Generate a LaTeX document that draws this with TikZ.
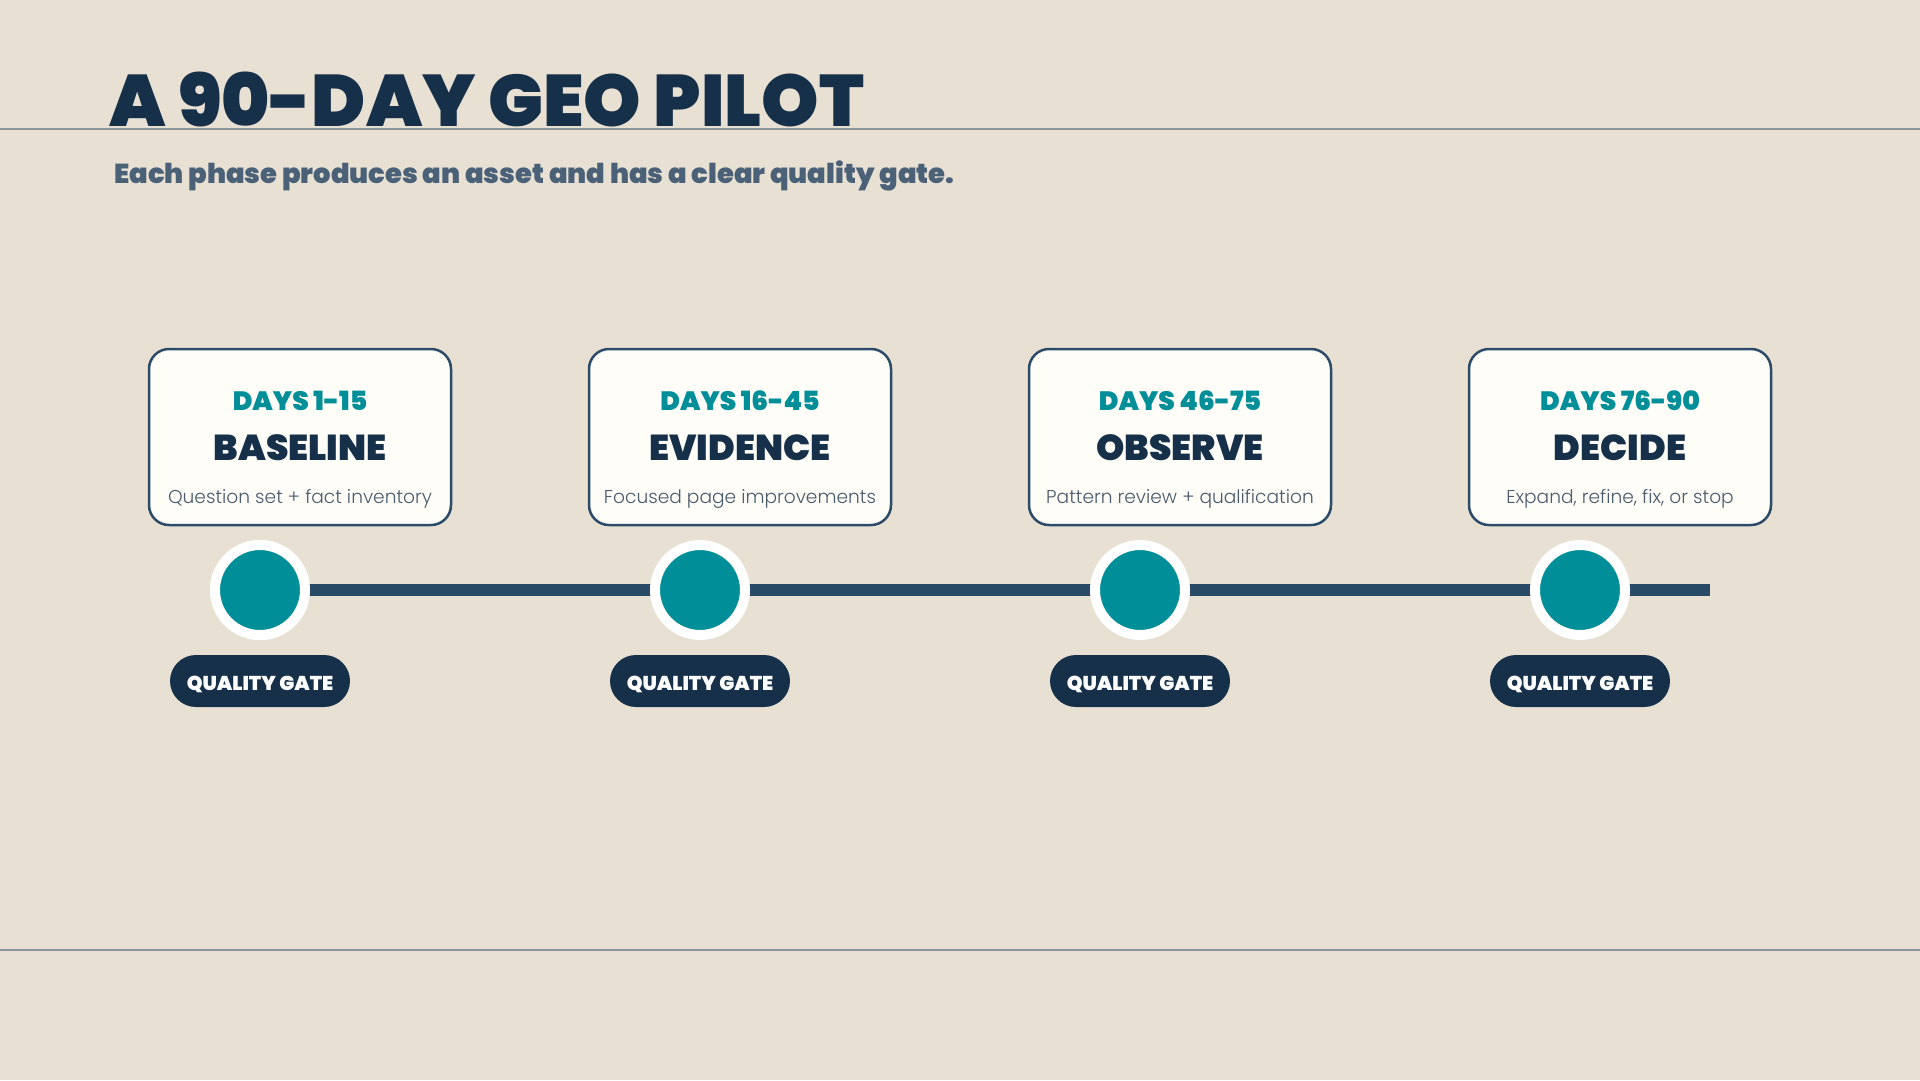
\documentclass[tikz,border=0pt]{standalone}
\usepackage{fontspec}
\setmainfont{Poppins}
\newfontfamily\heavyfont{Poppins Black}
\newfontfamily\lightfont{Poppins Light}
\definecolor{bgc}{HTML}{E8E1D3}
\definecolor{navy}{HTML}{17304A}
\definecolor{subc}{HTML}{4A6178}
\definecolor{boxfill}{HTML}{FEFDF8}
\definecolor{boxline}{HTML}{2B4B69}
\definecolor{teal}{HTML}{008E98}
\definecolor{linec}{HTML}{284A66}
\definecolor{rulec}{HTML}{8A969E}
\definecolor{desc}{HTML}{4A5B6C}
\tikzset{
  phasebox/.style={draw=boxline, line width=2.5pt, fill=boxfill, rounded corners=20pt, minimum width=302pt, minimum height=176pt, inner sep=0pt},
  daystext/.style={anchor=base, text=teal, font=\heavyfont\fontsize{26.5}{30}\selectfont, inner sep=0pt},
  phasetitle/.style={anchor=base, text=navy, font=\heavyfont\fontsize{36}{42}\selectfont, inner sep=0pt},
  desctext/.style={anchor=base, text=desc, font=\lightfont\fontsize{18.6}{22}\selectfont, inner sep=0pt},
  milestone/.style={circle, fill=teal, draw=white, line width=10pt, minimum size=90pt, inner sep=0pt},
  gatepill/.style={fill=navy, rounded corners=26pt, minimum width=180pt, minimum height=52pt, inner sep=0pt},
  gatetext/.style={anchor=base, text=white, font=\heavyfont\fontsize{20}{23}\selectfont, inner sep=0pt},
  rule/.style={draw=rulec, line width=2pt},
}
\begin{document}
\begin{tikzpicture}[x=1pt,y=-1pt]
\fill[bgc] (0,0) rectangle (1920,1080);
\useasboundingbox (0,0) rectangle (1920,1080);
% rules
\coordinate (r1a) at (0,129);
\coordinate (r1b) at (1920,129);
\coordinate (r2a) at (0,950);
\coordinate (r2b) at (1920,950);
\draw[rule] (r1a) -- (r1b);
\draw[rule] (r2a) -- (r2b);
% title
\node[anchor=base west, inner sep=0pt, text=navy, font=\heavyfont\fontsize{73}{78}\selectfont] (title) at (109,126) {A 90-DAY GEO PILOT};
\node[anchor=base west, inner sep=0pt, text=subc, font=\heavyfont\fontsize{27.4}{32}\selectfont] (subtitle) at (114,183) {Each phase produces an asset and has a clear quality gate.};
% timeline
\coordinate (tlend) at (1710,590);
\node[milestone] (c1) at (260,590) {};
\draw[linec, line width=12pt] (c1.center) -- (tlend);
\foreach \i/\x/\days/\name/\desc in {1/300/DAYS 1-15/BASELINE/Question set + fact inventory,
  2/740/DAYS 16-45/EVIDENCE/Focused page improvements,
  3/1180/DAYS 46-75/OBSERVE/Pattern review + qualification,
  4/1620/DAYS 76-90/DECIDE/{Expand, refine, fix, or stop}}{
  \node[phasebox] (b\i) at (\x,437) {};
  \node[daystext] (d\i) at (\x,410) {\days};
  \node[phasetitle] (n\i) at (\x,460) {\name};
  \node[desctext] (t\i) at (\x,503) {\desc};
  \node[milestone] (m\i) at (\x-40,590) {};
  \node[gatepill] (g\i) at (\x-40,681) {};
  \node[gatetext] (q\i) at (\x-40,690) {QUALITY GATE};
}
\end{tikzpicture}
\end{document}
